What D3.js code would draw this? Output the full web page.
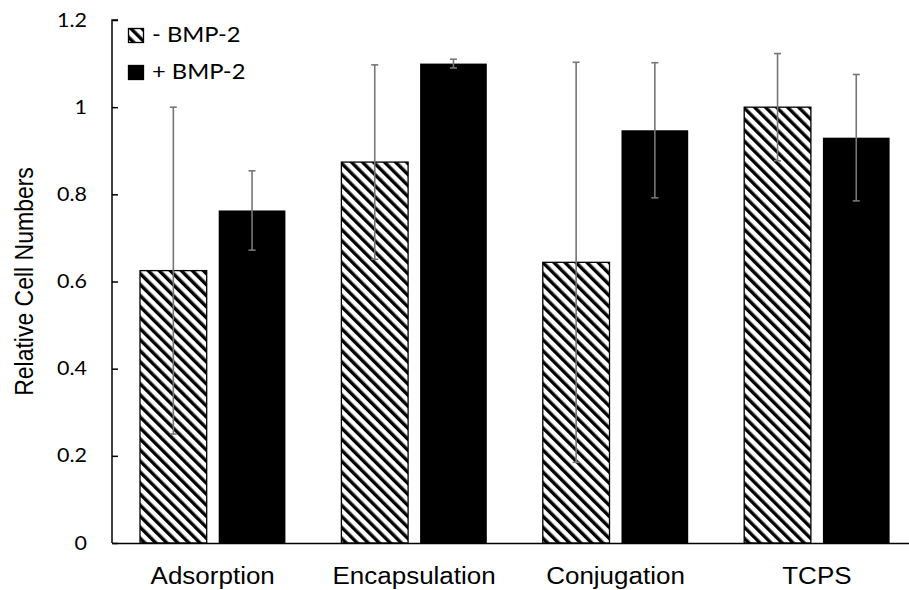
<!DOCTYPE html>
<html>
<head>
<meta charset="utf-8">
<script src="https://cdn.jsdelivr.net/npm/d3@7"></script>
<style>
  html, body { margin: 0; padding: 0; background: #fff; }
  svg { display: block; }
</style>
</head>
<body>
<svg id="chart" width="909" height="590"></svg>
<script>
// Relative cell numbers with and without BMP-2, mean ± error
const categories = ["Adsorption", "Encapsulation", "Conjugation", "TCPS"];
const seriesNames = ["- BMP-2", "+ BMP-2"];
const minusMeans = [0.625, 0.874, 0.644, 1.0];
const minusErrors = [0.375, 0.223, 0.459, 0.123];
const plusMeans = [0.763, 1.100, 0.947, 0.930];
const plusErrors = [0.091, 0.010, 0.155, 0.145];
const yTickValues = [0, 0.2, 0.4, 0.6, 0.8, 1.0, 1.2];
const yTickLabels = ["0", "0.2", "0.4", "0.6", "0.8", "1", "1.2"];
const yTitle = "Relative Cell Numbers";

const rows = categories.map((c, i) => ({
  category: c,
  values: [
    { series: seriesNames[0], mean: minusMeans[i], err: minusErrors[i] },
    { series: seriesNames[1], mean: plusMeans[i], err: plusErrors[i] }
  ]
}));

const svg = d3.select("#chart");
const plotLeft = 112, plotRight = 917.6, plotTop = 20, plotBottom = 543;
const textStretch = 1.13;

// hatch pattern for the "- BMP-2" series
const defs = svg.append("defs");
const pat = defs.append("pattern")
  .attr("id", "hatch")
  .attr("patternUnits", "userSpaceOnUse")
  .attr("width", 7.8).attr("height", 20)
  .attr("patternTransform", "rotate(-45)");
pat.append("rect").attr("width", 7.8).attr("height", 20).attr("fill", "#fff");
pat.append("rect").attr("x", 0).attr("width", 3.4).attr("height", 20).attr("fill", "#000");

const x0 = d3.scaleBand()
  .domain(categories)
  .range([plotLeft, plotRight])
  .paddingInner(0.278)
  .paddingOuter(0.139);

const x1 = d3.scaleBand()
  .domain(seriesNames)
  .range([0, x0.bandwidth()])
  .paddingInner(0.1525);

const y = d3.scaleLinear().domain([0, 1.2]).range([plotBottom, plotTop]);

const fillFor = s => s === seriesNames[0] ? "url(#hatch)" : "#000";

// bars
const groups = svg.append("g").selectAll("g")
  .data(rows).join("g")
  .attr("transform", d => `translate(${x0(d.category)},0)`);

groups.selectAll("rect")
  .data(d => d.values).join("rect")
  .attr("x", d => x1(d.series))
  .attr("y", d => y(d.mean))
  .attr("width", x1.bandwidth())
  .attr("height", d => y(0) - y(d.mean))
  .attr("fill", d => fillFor(d.series))
  .attr("stroke", d => d.series === seriesNames[0] ? "#000" : "none")
  .attr("stroke-width", 1.3);

// error bars
const errG = groups.selectAll("g.err")
  .data(d => d.values).join("g")
  .attr("class", "err")
  .attr("stroke", "#767676")
  .attr("stroke-width", 1.6);
const cx = d => x1(d.series) + x1.bandwidth() / 2;
errG.append("line")
  .attr("x1", cx).attr("x2", cx)
  .attr("y1", d => y(d.mean + d.err)).attr("y2", d => y(d.mean - d.err));
errG.append("line")
  .attr("x1", d => cx(d) - 3.5).attr("x2", d => cx(d) + 3.5)
  .attr("y1", d => y(d.mean + d.err)).attr("y2", d => y(d.mean + d.err));
errG.append("line")
  .attr("x1", d => cx(d) - 3.5).attr("x2", d => cx(d) + 3.5)
  .attr("y1", d => y(d.mean - d.err)).attr("y2", d => y(d.mean - d.err));

// y axis with inward ticks
const yAxis = d3.axisRight(y)
  .tickValues(yTickValues)
  .tickSize(6)
  .tickFormat("");
const yg = svg.append("g").attr("transform", `translate(${plotLeft},0)`).call(yAxis);
yg.select(".domain").attr("d", `M6,${plotTop}H0V${plotBottom}`).attr("stroke", "#000").attr("stroke-width", 1.5);
yg.selectAll(".tick line").attr("stroke", "#000").attr("stroke-width", 1.5);

svg.append("g").selectAll("text")
  .data(yTickValues).join("text")
  .attr("transform", d => `translate(87,${y(d) + 6.5}) scale(${textStretch},1)`)
  .attr("text-anchor", "end")
  .attr("font-family", "Lato, 'Open Sans', sans-serif")
  .attr("font-size", 19)
  .attr("fill", "#000")
  .text((d, i) => yTickLabels[i]);

// x axis
const xAxis = d3.axisBottom(x0).tickSize(0).tickFormat("");
const xg = svg.append("g").attr("transform", `translate(0,${plotBottom})`).call(xAxis);
xg.select(".domain").attr("stroke", "#000").attr("stroke-width", 1.5);

svg.append("g").selectAll("text")
  .data(categories).join("text")
  .attr("transform", d => `translate(${x0(d) + x0.bandwidth() / 2},584) scale(${textStretch},1)`)
  .attr("text-anchor", "middle")
  .attr("font-family", "'Liberation Sans', Arial, sans-serif")
  .attr("font-size", 23)
  .attr("fill", "#000")
  .text(d => d);

// y title
svg.append("text")
  .attr("transform", `translate(33,${(plotTop + plotBottom) / 2}) scale(${textStretch},1) rotate(-90)`)
  .attr("text-anchor", "middle")
  .attr("font-family", "'Liberation Sans', Arial, sans-serif")
  .attr("font-size", 23)
  .attr("fill", "#000")
  .text(yTitle);

// legend
const legend = svg.append("g").selectAll("g")
  .data(seriesNames).join("g")
  .attr("transform", (d, i) => `translate(128,${28 + i * 37})`);
legend.append("rect")
  .attr("x", 0.5).attr("y", 0.5)
  .attr("width", 15).attr("height", 14)
  .attr("fill", d => fillFor(d))
  .attr("stroke", "#000")
  .attr("stroke-width", 1.3);
legend.append("text")
  .attr("transform", `translate(24,14) scale(${textStretch},1)`)
  .attr("font-family", "Lato, 'Open Sans', sans-serif")
  .attr("font-size", 21)
  .attr("fill", "#000")
  .text(d => d);
</script>
</body>
</html>
